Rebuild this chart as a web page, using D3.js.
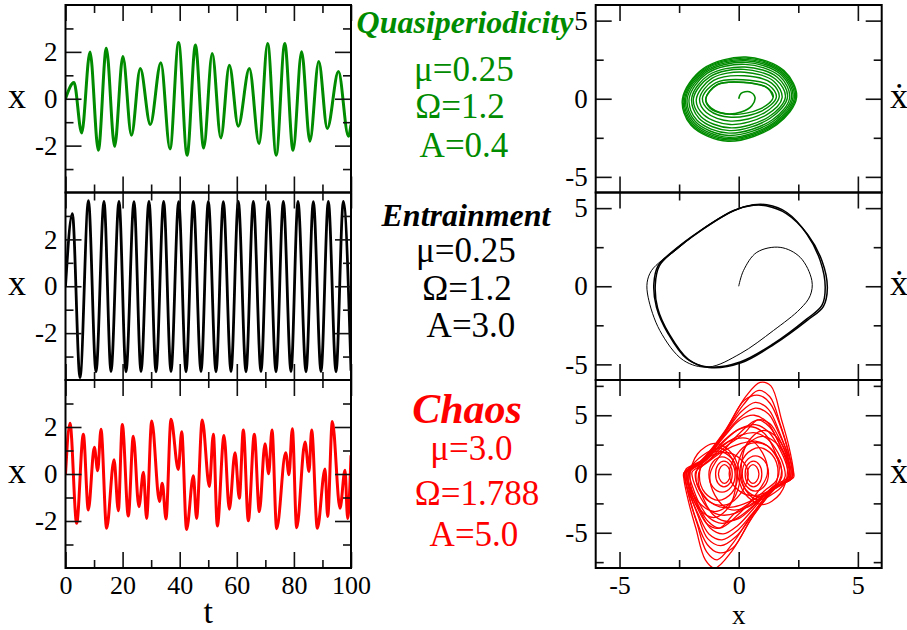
<!DOCTYPE html>
<html><head><meta charset="utf-8">
<script src="https://cdn.jsdelivr.net/npm/d3@7"></script>
<style>
html,body{margin:0;padding:0;background:#fff;}
svg{display:block;}
text{font-family:"Liberation Serif","Times New Roman",serif;}
</style>
</head><body>
<svg id="chart" width="907" height="630"></svg>
<script>
// ---------------- DATA ----------------
// Time series: extrema (t, x) of each trace
const tQuasi = [0, 2.98, 5.66, 8.58, 11.5, 14.3, 17.2, 20.1, 23.1, 26.2, 29.7, 33.4, 36.6, 39.6, 42.6, 45.5, 48.4, 51.4, 54.4, 57.4, 60.5, 64.4, 67.8, 70.8, 73.8, 76.8, 79.7, 82.7, 85.6, 88.7, 91.7, 95.6, 99.1, 100];
const xQuasi = [0, 0.69, -1.46, 2.0, -2.2, 2.16, -2.03, 1.8, -1.56, 1.29, -1.1, 1.54, -2.14, 2.4, -2.41, 2.29, -2.1, 1.93, -1.67, 1.43, -1.17, 1.29, -1.91, 2.36, -2.41, 2.36, -2.2, 2.01, -1.81, 1.59, -1.27, 1.16, -1.6, -1.1];

const tEntr = [0, 2.40, 5.08, 8.03, 10.68, 13.48, 15.93, 18.74, 21.19, 23.99, 26.44, 29.24, 31.70, 34.38, 36.95, 39.64, 42.21, 44.78, 47.46, 50.03, 52.71, 55.28, 57.97, 60.53, 63.22, 65.79, 68.47, 71.04, 73.73, 76.30, 78.98, 81.43, 84.24, 86.81, 89.49, 92.06, 94.75, 97.32, 100];
const xEntr = [0, 3.1, -3.9, 3.65, -3.65, 3.62, -3.64, 3.62, -3.65, 3.61, -3.64, 3.62, -3.65, 3.62, -3.64, 3.61, -3.65, 3.62, -3.64, 3.62, -3.65, 3.61, -3.64, 3.62, -3.65, 3.62, -3.64, 3.61, -3.65, 3.62, -3.64, 3.62, -3.65, 3.61, -3.64, 3.62, -3.65, 3.62, -3.6];

const tChaos = [0, 1.58, 3.91, 6.25, 7.99, 10.1, 11.27, 12.43, 14.4, 17.0, 18.5, 19.9, 22.0, 23.75, 25.7, 27.3, 28.4, 30.2, 32.9, 33.9, 35.2, 36.95, 39.5, 40.7, 42.4, 44.8, 45.9, 47.9, 50.38, 51.78, 53.18, 55.52, 57.38, 59.37, 60.89, 62.29, 64.04, 66.14, 67.89, 69.88, 71.16, 72.33, 73.96, 77.12, 78.28, 79.45, 80.97, 83.89, 85.29, 86.22, 88.21, 90.89, 91.83, 93.46, 96.15, 97.9, 98.83, 100];
const xChaos = [0, 2.16, -2.1, 1.69, -1.53, 1.14, 0.14, 1.9, -2.31, 0.61, -1.56, 2.11, -1.79, 1.61, -1.39, 0.07, -1.89, 2.26, -1.17, -0.39, -1.91, 2.33, 0.19, 1.8, -2.36, -0.07, -1.89, 2.3, -0.53, 1.69, -2.21, 1.64, -1.5, 0.9, -1.03, 1.87, -1.99, 1.69, -1.6, 1.29, 0.01, 1.87, -2.33, 0.9, -0.03, 1.93, -2.29, 1.36, 0.11, 1.87, -2.31, 0.21, -1.81, 2.23, -1.46, 0.16, -1.89, 0.8];

// Phase portraits (x, xdot)
const quasiStart = [[0,0],[0.1,0.35],[0.45,0.45],[0.68,0.1],[0.55,-0.45],[0.1,-0.85],[-0.6,-0.95],[-1.2,-0.6],[-1.38,0.0],[-0.9,0.9],[0.2,1.05],[1.2,0.7],[1.45,0.1]];
const quasiLoops = [
 [[-1.38,0],[-0.9,0.9],[0.2,1.05],[1.2,0.7],[1.45,0.1],[0.9,-0.65],[-0.3,-1.0],[-1.15,-0.6]],
 [[-1.52,0.05],[-0.97,1.02],[0.18,1.22],[1.28,0.85],[1.58,0.1],[0.98,-0.77],[-0.32,-1.18],[-1.25,-0.73]],
 [[-1.64,0],[-1.05,1.17],[0.23,1.47],[1.38,1.0],[1.7,0.12],[1.08,-0.9],[-0.34,-1.43],[-1.36,-0.88]],
 [[-1.78,-0.05],[-1.13,1.3],[0.24,1.7],[1.47,1.12],[1.82,0.05],[1.17,-1.03],[-0.36,-1.65],[-1.47,-1.02]],
 [[-1.9,0],[-1.2,1.42],[0.22,1.88],[1.55,1.25],[1.96,0.1],[1.25,-1.17],[-0.38,-1.86],[-1.58,-1.15]],
 [[-1.97,0.05],[-1.26,1.52],[0.26,2.03],[1.62,1.38],[2.05,0.12],[1.32,-1.25],[-0.39,-2.04],[-1.66,-1.26]],
 [[-2.08,0],[-1.33,1.62],[0.27,2.2],[1.7,1.47],[2.14,0.08],[1.4,-1.36],[-0.41,-2.2],[-1.75,-1.38]],
 [[-2.16,0],[-1.37,1.7],[0.28,2.33],[1.76,1.56],[2.22,0.1],[1.45,-1.44],[-0.42,-2.35],[-1.82,-1.46]],
 [[-2.22,0.03],[-1.41,1.77],[0.29,2.43],[1.8,1.64],[2.28,0.1],[1.5,-1.51],[-0.43,-2.47],[-1.87,-1.54]],
 [[-2.27,0],[-1.45,1.82],[0.29,2.52],[1.84,1.7],[2.34,0.1],[1.54,-1.56],[-0.44,-2.56],[-1.92,-1.6]],
 [[-2.32,0],[-1.48,1.87],[0.3,2.6],[1.87,1.76],[2.39,0.1],[1.57,-1.62],[-0.44,-2.64],[-1.96,-1.66]],
 [[-2.36,0],[-1.5,1.92],[0.3,2.67],[1.9,1.8],[2.43,0.1],[1.6,-1.66],[-0.45,-2.72],[-2.0,-1.7]]
];

const entrCycles = [
 [[1.18,5.21],[2.02,4.72],[2.86,3.34],[3.42,1.64],[3.63,-0.06],[3.49,-1.23],[2.86,-2.09],[1.46,-3.68],[0.06,-4.85],[-1.27,-5.17],[-2.18,-4.64],[-2.96,-3.04],[-3.45,-1.34],[-3.56,0.15],[-3.38,1.32],[-2.82,2.17],[-1.62,3.55],[-0.22,4.83],[0.62,5.21]],
 [[1.15,5.15],[2.0,4.65],[2.9,3.3],[3.5,1.6],[3.72,-0.1],[3.55,-1.3],[2.9,-2.15],[1.5,-3.7],[0.1,-4.9],[-1.25,-5.2],[-2.1,-4.7],[-2.9,-3.1],[-3.4,-1.4],[-3.5,0.1],[-3.33,1.3],[-2.8,2.15],[-1.6,3.55],[-0.2,4.85],[0.62,5.18]]
];
const entrTransient = [[0,0],[0.2,1.0],[0.76,2.17],[1.74,2.49],[2.58,1.85],[3.07,0.36],[3.0,-0.6],[2.58,-1.45],[1.46,-2.83],[0.06,-4.32],[-1.27,-5.17],[-2.32,-4.74],[-3.31,-2.83],[-3.8,-0.7],[-3.84,0.26],[-3.66,1.0],[-3.24,1.64],[-2.75,2.17],[-1.62,3.55],[-0.22,4.83],[0.62,5.21],[1.18,5.21]];

const chaosLoops = [
 [[-2.3,0.1],[-1.6,1.1],[-0.6,3.6],[0.3,6.6],[0.9,7.8],[1.35,7.5],[1.8,4.6],[2.1,2.4],[2.3,0.2],[2.3,-0.3],[1.6,-1.1],[0.6,-3.6],[-0.3,-6.6],[-1.0,-8.0],[-1.4,-7.3],[-1.8,-4.6],[-2.1,-2.4],[-2.3,-0.4]],
 [[-2.25,0.1],[-1.55,1.1],[-0.6,3.5],[0.2,5.9],[0.8,7.1],[1.3,6.6],[1.75,4.2],[2.05,2.2],[2.25,0.1],[2.22,-0.4],[1.5,-1.2],[0.55,-3.5],[-0.25,-5.9],[-0.9,-7.3],[-1.35,-6.6],[-1.75,-4.2],[-2.05,-2.2],[-2.25,-0.3]],
 [[-2.28,0.15],[-1.58,1.1],[-0.6,3.55],[0.25,6.3],[0.85,6.7],[1.32,6.0],[1.78,3.9],[2.08,1.9],[2.27,0.0],[2.2,-0.45],[1.5,-1.15],[0.6,-3.3],[-0.05,-4.8],[-0.7,-5.6],[-1.25,-5.1],[-1.7,-3.4],[-2.05,-1.8],[-2.27,-0.35]],
 [[2.28,-0.15],[1.58,-1.1],[0.6,-3.55],[-0.25,-6.3],[-0.85,-6.7],[-1.32,-6.0],[-1.78,-3.9],[-2.08,-1.9],[-2.27,0.0],[-2.2,0.45],[-1.5,1.15],[-0.6,3.3],[0.05,4.8],[0.7,5.6],[1.25,5.1],[1.7,3.4],[2.05,1.8],[2.27,0.35]],
 [[-2.2,0.2],[-1.5,1.1],[-0.6,3.4],[0.1,5.3],[0.7,6.1],[1.25,5.5],[1.7,3.6],[2.05,1.6],[2.2,0.0],[2.15,-0.5],[1.45,-1.2],[0.6,-3.4],[-0.1,-5.3],[-0.75,-6.1],[-1.3,-5.5],[-1.7,-3.6],[-2.05,-1.6],[-2.2,-0.3]],
 [[-2.15,0.2],[-1.45,1.1],[-0.6,3.2],[0.05,4.6],[0.65,5.0],[1.2,4.4],[1.65,2.8],[2.0,1.2],[2.15,-0.1],[2.05,-0.6],[1.4,-1.2],[0.6,-3.0],[-0.05,-4.4],[-0.65,-5.1],[-1.2,-4.6],[-1.65,-3.0],[-2.0,-1.3],[-2.15,-0.3]],
 [[-2.05,0.2],[-1.4,1.1],[-0.6,2.9],[0.1,3.9],[0.7,4.2],[1.25,3.6],[1.7,2.2],[2.0,0.8],[2.08,-0.2],[1.9,-0.8],[1.3,-1.5],[0.5,-2.9],[-0.1,-3.8],[-0.7,-4.2],[-1.25,-3.7],[-1.7,-2.3],[-1.95,-1.0],[-2.05,-0.3]],
 [[-1.95,0.2],[-1.35,1.0],[-0.6,2.5],[0.1,3.3],[0.7,3.5],[1.2,3.0],[1.65,1.8],[1.9,0.6],[1.95,-0.2],[1.75,-0.9],[1.2,-1.6],[0.5,-2.6],[-0.1,-3.3],[-0.7,-3.5],[-1.2,-3.1],[-1.6,-2.0],[-1.85,-0.9],[-1.95,-0.2]],
 [[-1.8,0.2],[-1.3,1.0],[-0.6,2.0],[0.1,2.6],[0.7,2.8],[1.2,2.4],[1.6,1.4],[1.8,0.4],[1.8,-0.3],[1.55,-1.1],[1.0,-1.8],[0.4,-2.4],[-0.2,-2.8],[-0.8,-2.8],[-1.25,-2.3],[-1.6,-1.4],[-1.8,-0.5]],
 [[-2.1,0.2],[-1.45,1.05],[-0.65,2.7],[0.0,3.8],[0.6,4.0],[1.1,3.4],[1.5,2.0],[1.7,0.6],[1.6,-0.5],[1.1,-1.4],[0.5,-2.4],[-0.2,-3.4],[-0.8,-4.6],[-1.3,-4.3],[-1.75,-2.8],[-2.05,-1.2]],
 [[2.1,-0.2],[1.45,-1.05],[0.65,-2.7],[0.0,-3.8],[-0.6,-4.0],[-1.1,-3.4],[-1.5,-2.0],[-1.7,-0.6],[-1.6,0.5],[-1.1,1.4],[-0.5,2.4],[0.2,3.4],[0.8,4.6],[1.3,4.3],[1.75,2.8],[2.05,1.2]],
 [[-1.2,0.0],[-0.7,1.8],[0.1,3.6],[0.8,4.6],[1.3,4.0],[1.8,2.2],[2.2,0.3],[2.1,-0.5],[1.4,-1.3],[0.4,-2.8],[-0.4,-3.0],[-1.0,-1.8]],
 [[1.2,0.0],[0.7,-1.8],[-0.1,-3.6],[-0.8,-4.6],[-1.3,-4.0],[-1.8,-2.2],[-2.2,-0.3],[-2.1,0.5],[-1.4,1.3],[-0.4,2.8],[0.4,3.0],[1.0,1.8]],
 [[0.1,0.2],[0.35,2.6],[1.0,3.7],[1.65,3.0],[2.1,1.0],[2.05,-0.4],[1.5,-1.6],[0.8,-2.2],[0.3,-1.4]],
 [[-0.1,-0.2],[-0.35,-2.6],[-1.0,-3.7],[-1.65,-3.0],[-2.1,-1.0],[-2.05,0.4],[-1.5,1.6],[-0.8,2.2],[-0.3,1.4]],
 [[-0.4,0.0],[-0.1,1.6],[0.5,2.6],[1.2,2.4],[1.75,0.9],[1.7,-0.6],[1.1,-1.6],[0.4,-1.8],[-0.2,-1.0]],
 [[0.4,0.0],[0.1,-1.6],[-0.5,-2.6],[-1.2,-2.4],[-1.75,-0.9],[-1.7,0.6],[-1.1,1.6],[-0.4,1.8],[0.2,1.0]],
 [[0.35,0.0],[0.45,0.6],[0.6,0.8],[0.75,0.6],[0.85,0],[0.75,-0.6],[0.6,-0.8],[0.45,-0.6]],
 [[0.27,0],[0.37,0.78],[0.62,1.1],[0.87,0.78],[0.97,0],[0.87,-0.78],[0.62,-1.1],[0.37,-0.78]],
 [[0.15,0.05],[0.31,1.1],[0.7,1.55],[1.09,1.1],[1.25,0.05],[1.09,-1.0],[0.7,-1.45],[0.31,-1.0]],
 [[0.05,0.15],[0.29,1.62],[0.85,2.25],[1.41,1.62],[1.65,0.15],[1.41,-1.32],[0.85,-1.95],[0.29,-1.32]],
 [[-0.05,0.3],[0.27,2.3],[1.0,3.2],[1.73,2.3],[2.05,0.3],[1.73,-1.7],[1.0,-2.6],[0.27,-1.7]],
 [[-0.35,0.0],[-0.45,-0.6],[-0.6,-0.8],[-0.75,-0.6],[-0.85,0],[-0.75,0.6],[-0.6,0.8],[-0.45,0.6]],
 [[-0.27,0],[-0.37,-0.78],[-0.62,-1.1],[-0.87,-0.78],[-0.97,0],[-0.87,0.78],[-0.62,1.1],[-0.37,0.78]],
 [[-0.15,-0.05],[-0.31,-1.1],[-0.7,-1.55],[-1.09,-1.1],[-1.25,-0.05],[-1.09,1.0],[-0.7,1.45],[-0.31,1.0]],
 [[-0.05,-0.15],[-0.29,-1.62],[-0.85,-2.25],[-1.41,-1.62],[-1.65,-0.15],[-1.41,1.32],[-0.85,1.95],[-0.29,1.32]],
 [[0.05,-0.3],[-0.27,-2.3],[-1.0,-3.2],[-1.73,-2.3],[-2.05,-0.3],[-1.73,1.7],[-1.0,2.6],[-0.27,1.7]]
];

// Axis tick values
const tMajor = [0, 20, 40, 60, 80, 100];
const tMinor = [10, 30, 50, 70, 90];
const xsMajor = [-2, 0, 2];
const xsMinor = [-3, -1, 1, 3];
const phMajor = [-5, 0, 5];
const phMinor = [-2.5, 2.5];
const phMinorBig = [-7.5, -2.5, 2.5, 7.5];

// Labels
const regimes = [
  {title:"Quasiperiodicity", color:"rgb(0,139,0)", params:["μ=0.25","Ω=1.2","A=0.4"]},
  {title:"Entrainment", color:"#000", params:["μ=0.25","Ω=1.2","A=3.0"]},
  {title:"Chaos", color:"#ff0000", params:["μ=3.0","Ω=1.788","A=5.0"]}
];

// ---------------- LAYOUT ----------------
const svg = d3.select("#chart");
const rows = [5, 192.5, 380, 568];
const L = {x0:65.5, x1:351};
const R = {x0:595.7, x1:881.7};
const colors = ["rgb(0,139,0)", "#000", "#ff0000"];

const xT = d3.scaleLinear().domain([0,100]).range([L.x0, L.x1]);
const xP = d3.scaleLinear().domain([-6,6]).range([R.x0, R.x1]);

function ticks(g, scale, orient, values, size, pos, labels, pad, fs) {
  let ax;
  if (orient === "left") ax = d3.axisLeft(scale);
  else if (orient === "right") ax = d3.axisRight(scale);
  else if (orient === "top") ax = d3.axisTop(scale);
  else ax = d3.axisBottom(scale);
  ax.tickValues(values).tickSize(-size).tickPadding(pad || 8)
    .tickFormat(labels ? (d => String(d)) : (() => ""));
  const gg = g.append("g")
    .attr("transform", (orient==="left"||orient==="right") ? `translate(${pos},0)` : `translate(0,${pos})`)
    .call(ax);
  gg.select(".domain").remove();
  gg.selectAll(".tick line").attr("stroke", "#111").attr("stroke-width", 1.6);
  gg.selectAll("text").attr("fill", "#000").style("font-size", (fs || 27) + "px")
    .style("font-family", '"Liberation Serif","Times New Roman",serif');
  return gg;
}

const tsData = [[tQuasi, xQuasi], [tEntr, xEntr], [tChaos, xChaos]];

for (let i = 0; i < 3; i++) {
  const y0 = rows[i], y1 = rows[i+1];
  const g = svg.append("g");
  const yS = d3.scaleLinear().domain([-4,4]).range([y1, y0]);
  const pts = tsData[i][0].map((t, k) => [t, tsData[i][1][k]]);
  const clipId = "clipL" + i;
  svg.append("clipPath").attr("id", clipId).append("rect")
    .attr("x", L.x0).attr("y", y0).attr("width", L.x1 - L.x0).attr("height", y1 - y0);
  g.append("path").datum(pts)
    .attr("clip-path", `url(#${clipId})`)
    .attr("fill", "none").attr("stroke", colors[i])
    .attr("stroke-width", i === 1 ? 2.8 : 3)
    .attr("stroke-linejoin", "round")
    .attr("d", d3.line().x(d => xT(d[0])).y(d => yS(d[1])).curve(d3.curveMonotoneX));
  ticks(g, yS, "left", xsMajor, 16, L.x0, true, 8);
  ticks(g, yS, "left", xsMinor, 8, L.x0, false);
  ticks(g, yS, "right", xsMajor, 16, L.x1, false);
  ticks(g, yS, "right", xsMinor, 8, L.x1, false);
  ticks(g, xT, "top", tMajor, 16, y0, false);
  ticks(g, xT, "top", tMinor, 8, y0, false);
  ticks(g, xT, "bottom", tMajor, 16, y1, i === 2, 8, 26);
  ticks(g, xT, "bottom", tMinor, 8, y1, false);
  g.append("rect").attr("x", L.x0).attr("y", y0).attr("width", L.x1 - L.x0).attr("height", y1 - y0)
    .attr("fill", "none").attr("stroke", "#000").attr("stroke-width", 2);
  g.append("text").attr("x", 17).attr("y", (y0 + y1) / 2 + 9).attr("text-anchor", "middle")
    .style("font-size", "36px").text("x");
}

// Phase portraits
for (let i = 0; i < 3; i++) {
  const y0 = rows[i], y1 = rows[i+1];
  const g = svg.append("g");
  const lim = i === 2 ? 8 : 6;
  const yS = d3.scaleLinear().domain([-lim, lim]).range([y1, y0]);
  const clipId = "clipR" + i;
  svg.append("clipPath").attr("id", clipId).append("rect")
    .attr("x", R.x0).attr("y", y0).attr("width", R.x1 - R.x0).attr("height", y1 - y0);
  const gc = g.append("g").attr("clip-path", `url(#${clipId})`);
  const lineOpen = d3.line().x(d => xP(d[0])).y(d => yS(d[1])).curve(d3.curveCatmullRom.alpha(0.5));
  const lineClosed = d3.line().x(d => xP(d[0])).y(d => yS(d[1])).curve(d3.curveCatmullRomClosed.alpha(0.5));
  if (i === 0) {
    gc.append("path").datum(quasiStart).attr("fill","none").attr("stroke",colors[0]).attr("stroke-width",1.6).attr("d", lineOpen);
    gc.selectAll("path.loop").data(quasiLoops).enter().append("path").attr("class","loop")
      .attr("fill","none").attr("stroke",colors[0]).attr("stroke-width",1.4).attr("d", lineClosed);
  } else if (i === 1) {
    gc.append("path").datum(entrTransient).attr("fill","none").attr("stroke","#000").attr("stroke-width",1).attr("d", lineOpen);
    gc.selectAll("path.loop").data(entrCycles).enter().append("path").attr("class","loop")
      .attr("fill","none").attr("stroke","#000").attr("stroke-width",1.5).attr("d", lineClosed);
  } else {
    gc.selectAll("path.loop").data(chaosLoops).enter().append("path").attr("class","loop")
      .attr("fill","none").attr("stroke","#ff0000").attr("stroke-width",1.3).attr("d", lineClosed);
  }
  ticks(g, yS, "left", phMajor, 16, R.x0, true, 8);
  ticks(g, yS, "left", i === 2 ? phMinorBig : phMinor, 8, R.x0, false);
  ticks(g, yS, "right", phMajor, 16, R.x1, false);
  ticks(g, yS, "right", i === 2 ? phMinorBig : phMinor, 8, R.x1, false);
  ticks(g, xP, "top", phMajor, 16, y0, false);
  ticks(g, xP, "top", phMinor, 8, y0, false);
  ticks(g, xP, "bottom", phMajor, 16, y1, i === 2, 8, 26);
  ticks(g, xP, "bottom", phMinor, 8, y1, false);
  g.append("rect").attr("x", R.x0).attr("y", y0).attr("width", R.x1 - R.x0).attr("height", y1 - y0)
    .attr("fill", "none").attr("stroke", "#000").attr("stroke-width", 2);
  g.append("text").attr("x", 899).attr("y", (y0 + y1) / 2 + 9).attr("text-anchor", "middle")
    .style("font-size", "36px").text("ẋ");
}

// axis titles
svg.append("text").attr("x", xT(50)).attr("y", 623).attr("text-anchor","middle").style("font-size","34px").text("t");
svg.append("text").attr("x", xP(0)).attr("y", 624.1).attr("text-anchor","middle").style("font-size","27px").text("x");

// middle annotations
const titleY = [33, 226, 423];
const titleSize = [32, 32, 42];
const paramY = [[80.7, 118, 157], [261.7, 300, 336.7], [460, 505, 546]];
const paramX = [[464, 460, 464], [466, 467, 471], [471.5, 477, 474]];
const titleX = [465, 466, 467];
regimes.forEach((r, i) => {
  svg.append("text").attr("x", titleX[i]).attr("y", titleY[i]).attr("text-anchor","middle")
    .attr("fill", r.color).style("font-size", titleSize[i] + "px")
    .style("font-weight","bold").style("font-style","italic").text(r.title);
  r.params.forEach((p, k) => {
    svg.append("text").attr("x", paramX[i][k]).attr("y", paramY[i][k]).attr("text-anchor","middle")
      .attr("fill", r.color).style("font-size","35px").text(p);
  });
});
</script>
</body></html>
